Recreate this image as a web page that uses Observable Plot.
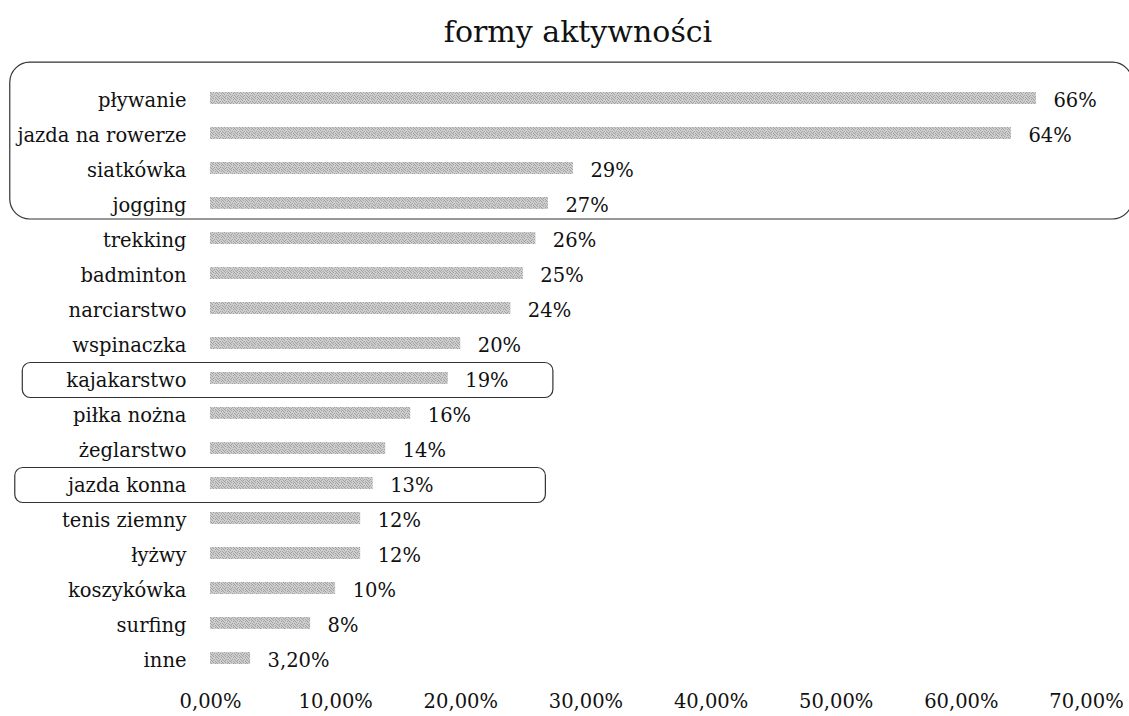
<!DOCTYPE html>
<html><head><meta charset="utf-8">
<script src="https://cdn.jsdelivr.net/npm/d3@7"></script>
<script src="https://cdn.jsdelivr.net/npm/@observablehq/plot@0.6"></script>
<style>
html,body{margin:0;background:#fff;overflow:hidden;}
#title{height:56px;box-sizing:border-box;padding-top:17px;padding-left:27px;text-align:center;
 font-family:"DejaVu Serif";font-size:30px;line-height:1;color:#111;}
#chart svg{display:block;}
</style></head><body>
<div id="title">formy aktywności</div>
<div id="chart"></div>
<script>
const categories = ["pływanie","jazda na rowerze","siatkówka","jogging","trekking","badminton","narciarstwo","wspinaczka","kajakarstwo","piłka nożna","żeglarstwo","jazda konna","tenis ziemny","łyżwy","koszykówka","surfing","inne"];
const values = [0.66,0.64,0.29,0.27,0.26,0.25,0.24,0.20,0.19,0.16,0.14,0.13,0.12,0.12,0.10,0.08,0.032];
const valueLabels = ["66%","64%","29%","27%","26%","25%","24%","20%","19%","16%","14%","13%","12%","12%","10%","8%","3,20%"];
const tickValues = [0,0.1,0.2,0.3,0.4,0.5,0.6,0.7];
const tickLabels = ["0,00%","10,00%","20,00%","30,00%","40,00%","50,00%","60,00%","70,00%"];
const highlightGroups = [["pływanie","jogging"],["kajakarstwo"],["jazda konna"]];

const data = categories.map((c,i)=>({cat:c, value:values[i], label:valueLabels[i]}));

// halftone-like texture for the bars (styling only)
function barTexture() {
  const svg = d3.create("svg:g");
  const p = svg.append("defs").append("pattern").attr("id","bartex").attr("patternUnits","userSpaceOnUse")
    .attr("width",6).attr("height",6);
  p.append("rect").attr("width",6).attr("height",6).attr("fill","#cdcdcd");
  [[0,0],[3,0],[1,1],[5,1],[2,2],[4,3],[0,3],[1,4],[3,4],[5,5],[2,5]].forEach(([a,b]) =>
    p.append("rect").attr("x",a).attr("y",b).attr("width",1).attr("height",1).attr("fill","#a2a2a2"));
  return svg.node();
}

function highlightBoxes(index, scales) {
  const {x, y} = scales;
  const bw = y.bandwidth();
  const step = y(categories[1]) - y(categories[0]);
  const c = k => y(k) + bw/2 + 2;
  const g = d3.create("svg:g").attr("fill","none").attr("stroke","#333").attr("stroke-width",1.2);
  highlightGroups.forEach(grp => {
    const first = grp[0], last = grp[grp.length-1];
    let x1, x2, y1, y2, r;
    if (grp.length > 1) {
      x1 = x(-0.16); x2 = x(0.737); y1 = c(first) - 1.08*step; y2 = c(last) + 0.4*step; r = 20;
    } else if (first === "kajakarstwo") {
      x1 = x(-0.15); x2 = x(0.274); y1 = c(first) - step/2; y2 = c(last) + step/2; r = 8;
    } else {
      x1 = x(-0.156); x2 = x(0.268); y1 = c(first) - step/2; y2 = c(last) + step/2; r = 8;
    }
    g.append("rect").attr("x",x1).attr("y",y1).attr("width",x2-x1).attr("height",y2-y1).attr("rx",r).attr("ry",r);
  });
  return g.node();
}

const plot = Plot.plot({
  width: 1129,
  height: 660,
  marginTop: 36,
  marginBottom: 52,
  marginLeft: 210,
  marginRight: 43,
  style: {fontFamily: "DejaVu Serif", fontSize: "19.5px", color: "#111", background: "#fff", overflow: "visible"},
  x: {domain: [0, 0.7], ticks: tickValues, tickFormat: d => tickLabels[tickValues.indexOf(d)], tickSize: 0, tickPadding: 30, label: null},
  y: {domain: categories, paddingInner: 0.657, paddingOuter: 0, round: false, axis: null, label: null},
  marks: [
    barTexture,
    Plot.barX(data, {x: "value", y: "cat", fill: "url(#bartex)"}),
    Plot.text(data, {y: "cat", text: "cat", frameAnchor: "left", textAnchor: "end", dx: -24, dy: 2, fill: "#111"}),
    Plot.text(data, {x: "value", y: "cat", text: "label", dx: 17, dy: 2, textAnchor: "start", fill: "#111"}),
    highlightBoxes
  ]
});
document.getElementById("chart").appendChild(plot);
</script>
</body></html>
